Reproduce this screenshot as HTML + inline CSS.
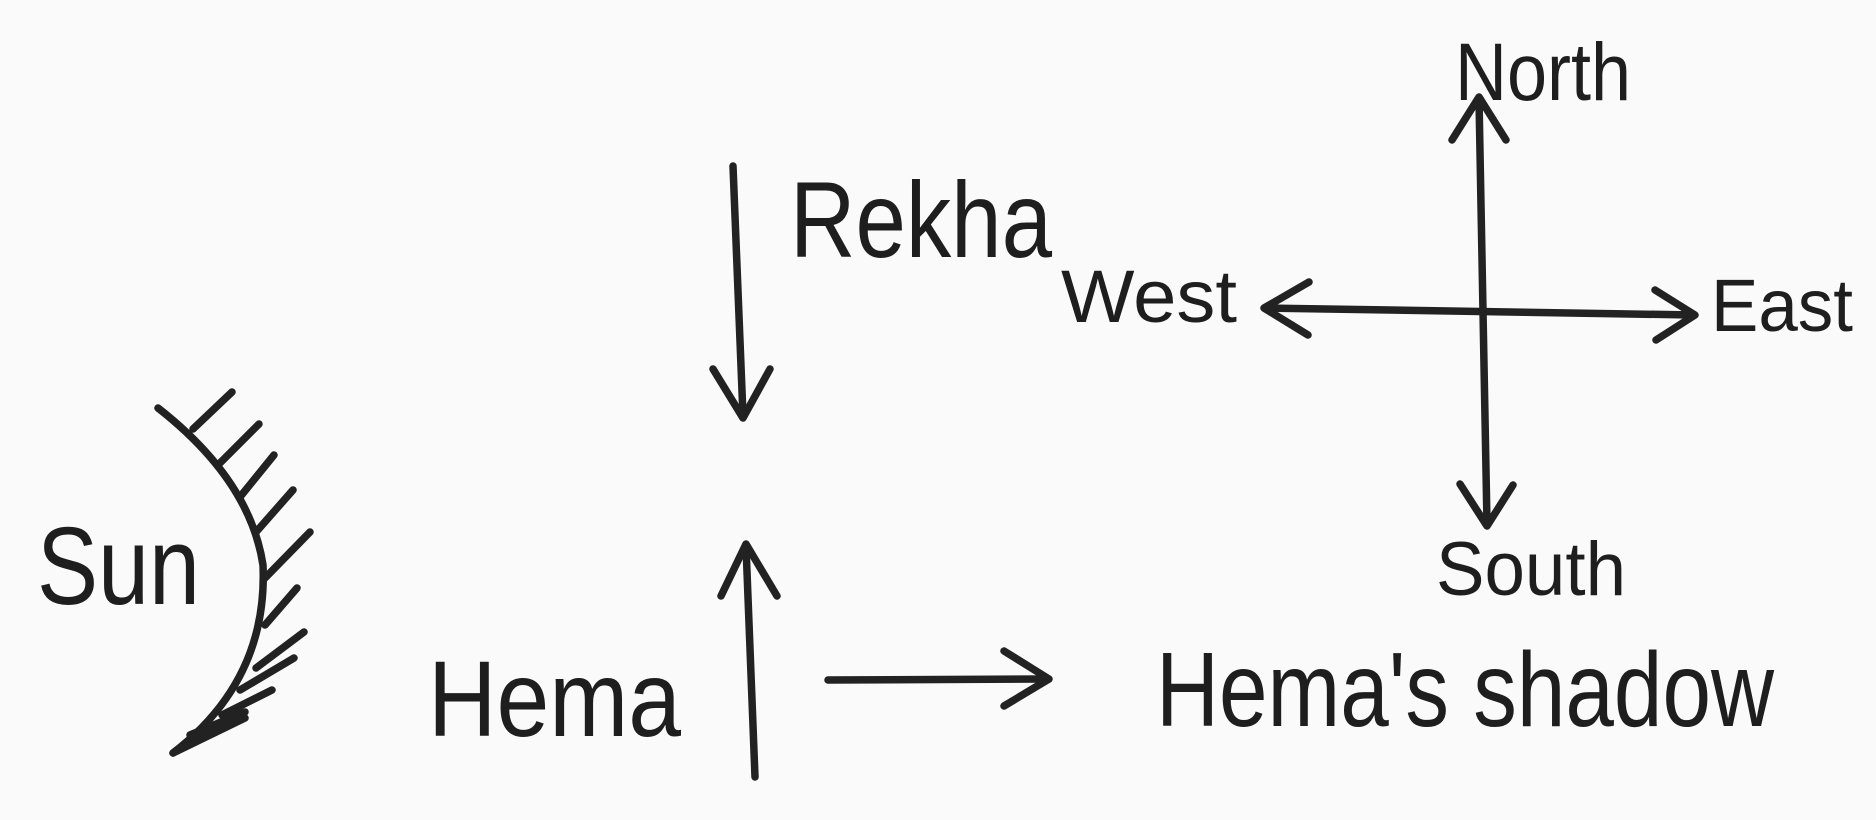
<!DOCTYPE html>
<html><head><meta charset="utf-8"><style>
html,body{margin:0;padding:0;background:#fbfafa;}
svg{display:block;}
text{font-family:"Liberation Sans",sans-serif;fill:#1e1e1e;}
</style></head><body>
<svg width="1876" height="820" viewBox="0 0 1876 820" xmlns="http://www.w3.org/2000/svg">
<g stroke="#222" stroke-width="7.5" fill="none" stroke-linecap="round" stroke-linejoin="round">
  <path d="M158 408 Q250 480 263 565 Q268 680 173 753"/>
  <path d="M232 392 L193 429"/>
  <path d="M259 424 L219 464"/>
  <path d="M274 455 L240 497"/>
  <path d="M293 490 L256 532"/>
  <path d="M310 532 L265 578"/>
  <path d="M297 588 L265 625"/>
  <path d="M304 632 L256 668"/>
  <path d="M294 658 L240 690"/>
  <path d="M272 690 L222 715"/>
  <path d="M245 712 L190 735"/>
  <path d="M173 753 L245 718 L208 728 Z" fill="#222"/>
  <path d="M733 166 L743 416"/>
  <path d="M713 369 L743 418 L770 369"/>
  <path d="M755 777 L746 546"/>
  <path d="M721 596 L746 544 L777 596"/>
  <path d="M828 680 L1047 679"/>
  <path d="M1004 651 L1049 679 L1004 706"/>
  <path d="M1479 99 L1487 524"/>
  <path d="M1452 140 L1479 97 L1506 140"/>
  <path d="M1460 484 L1487 526 L1513 485"/>
  <path d="M1266 308 L1693 315"/>
  <path d="M1309 282 L1264 308 L1308 335"/>
  <path d="M1655 290 L1695 315 L1656 340"/>
</g>
<text x="37" y="604" font-size="110" textLength="163" lengthAdjust="spacingAndGlyphs">Sun</text>
<text x="790" y="257" font-size="108" textLength="262" lengthAdjust="spacingAndGlyphs">Rekha</text>
<text x="428" y="736" font-size="108" textLength="253" lengthAdjust="spacingAndGlyphs">Hema</text>
<text x="1156" y="726" font-size="106" textLength="618" lengthAdjust="spacingAndGlyphs">Hema's shadow</text>
<text x="1455" y="100" font-size="82" textLength="176" lengthAdjust="spacingAndGlyphs">North</text>
<text x="1061" y="322" font-size="74" textLength="176" lengthAdjust="spacingAndGlyphs">West</text>
<text x="1711" y="331" font-size="74" textLength="142" lengthAdjust="spacingAndGlyphs">East</text>
<text x="1436" y="595" font-size="76" textLength="190" lengthAdjust="spacingAndGlyphs">South</text>
</svg>
</body></html>
